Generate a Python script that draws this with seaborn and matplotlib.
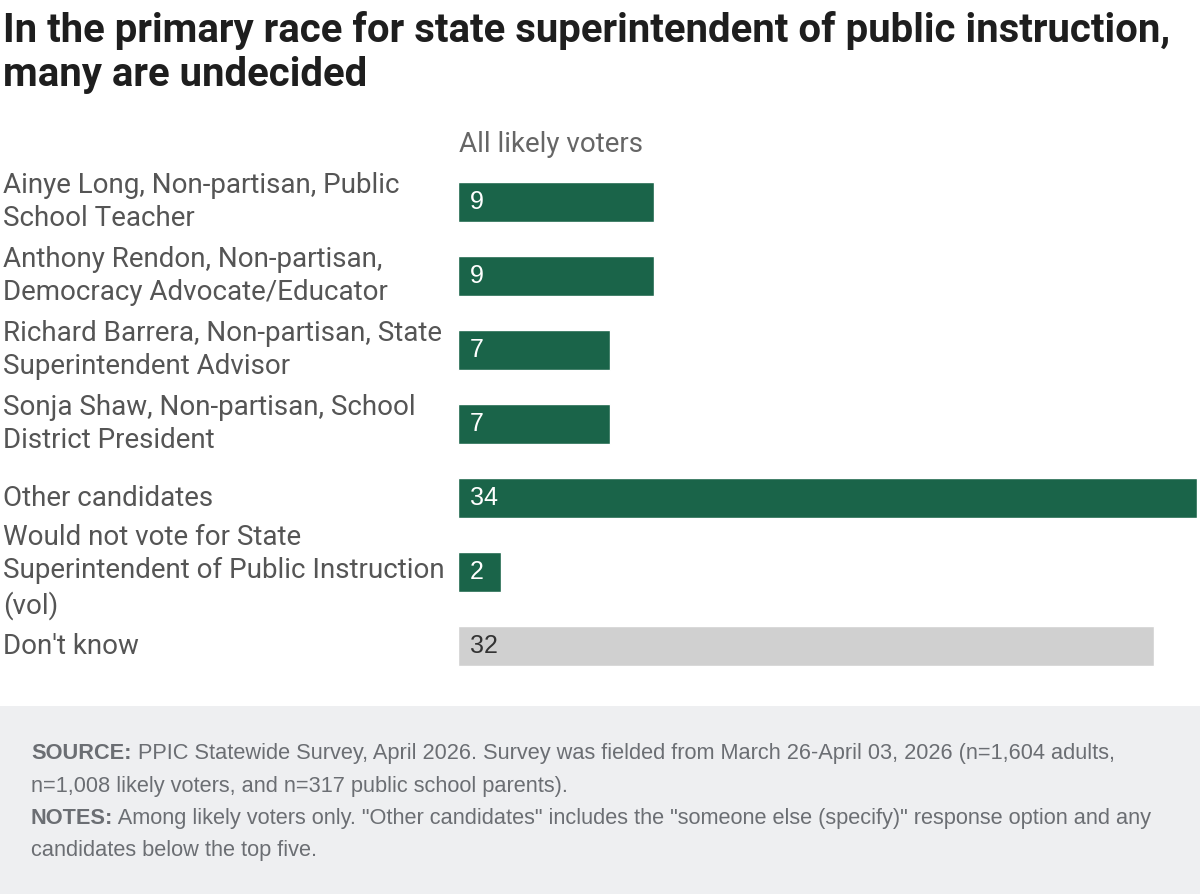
import matplotlib
matplotlib.use("Agg")
import matplotlib.pyplot as plt
import matplotlib.transforms as mtransforms
from matplotlib.patches import Rectangle
import seaborn as sns
import pandas as pd

# ---------------- data ----------------
categories = [
    "Ainye Long, Non-partisan, Public\nSchool Teacher",
    "Anthony Rendon, Non-partisan,\nDemocracy Advocate/Educator",
    "Richard Barrera, Non-partisan, State\nSuperintendent Advisor",
    "Sonja Shaw, Non-partisan, School\nDistrict President",
    "Other candidates",
    "Would not vote for State\nSuperintendent of Public Instruction\n(vol)",
    "Don't know",
]
values = [9, 9, 7, 7, 34, 2, 32]
bar_colors = ["#1a6449", "#1a6449", "#1a6449", "#1a6449", "#1a6449", "#1a6449", "#d0d0d0"]
label_colors = ["white", "white", "white", "white", "white", "white", "#333333"]
series_name = "All likely voters"
title_lines = ["In the primary race for state superintendent of public instruction,",
               "many are undecided"]
source_head = "SOURCE:"
source_lines = [
    " PPIC Statewide Survey, April 2026. Survey was fielded from March 26-April 03, 2026 (n=1,604 adults,",
    "n=1,008 likely voters, and n=317 public school parents).",
]
notes_head = "NOTES:"
notes_lines = [
    " Among likely voters only. \"Other candidates\" includes the \"someone else (specify)\" response option and any",
    "candidates below the top five.",
]

df = pd.DataFrame({"category": categories, "value": values})

# ---------------- figure ----------------
sns.set_theme(style="white")
W, H = 1200, 894
fig = plt.figure(figsize=(W / 100, H / 100), dpi=100)
fig.patch.set_facecolor("white")
renderer = fig.canvas.get_renderer()

label_font = ["Roboto", "DejaVu Sans"]
num_font = ["Liberation Sans", "DejaVu Sans"]


def fit_size(text, target_px, family, weight="normal", base=20):
    t = fig.text(0, 0, text, fontsize=base, family=family, fontweight=weight)
    w = t.get_window_extent(renderer=renderer).width
    t.remove()
    return base * target_px / w


label_size = fit_size(categories[0].split("\n")[0], 396, label_font)
title_size = fit_size(title_lines[0], 1165, label_font, "bold")

# footer background
fig.patches.append(Rectangle((0, 0), 1, (H - 706) / H, transform=fig.transFigure,
                             facecolor="#eeeff1", edgecolor="none", zorder=0))

ax = fig.add_axes([458 / W, 1 - 683 / H, (1197 - 458) / W, 518 / H])
sns.barplot(data=df, x="value", y="category", hue="category", palette=bar_colors,
            legend=False, width=0.54, orient="h", ax=ax, saturation=1)
ax.set_xlim(0, 34)
ax.set_ylim(6.5, -0.5)
for s in ax.spines.values():
    s.set_visible(False)
ax.set_xticks([])
ax.set_yticks([])
ax.set_xlabel("")
ax.set_ylabel("")
ax.patch.set_alpha(0)

# value labels
off = mtransforms.ScaledTranslation(12 / 100, 0, fig.dpi_scale_trans)
for i, (v, c) in enumerate(zip(values, label_colors)):
    ax.text(0, i, str(v), transform=ax.transData + off, ha="left", va="center",
            fontsize=18, color=c, family=num_font)

# category labels
blend = mtransforms.blended_transform_factory(fig.transFigure, ax.transData)
for i, cat in enumerate(categories):
    ax.text(3 / W, i, cat, transform=blend, ha="left", va="center", fontsize=label_size,
            color="#555555", family=label_font, linespacing=1.3)

# series header
fig.text(459 / W, 1 - 152 / H, series_name, ha="left", va="baseline", fontsize=label_size,
         color="#666666", family=label_font)

# title
fig.text(3 / W, 1 - 42 / H, title_lines[0], ha="left", va="baseline",
         fontsize=title_size, fontweight="bold", color="#1e1e1e", family=label_font)
fig.text(3 / W, 1 - 86 / H, title_lines[1], ha="left", va="baseline",
         fontsize=title_size, fontweight="bold", color="#1e1e1e", family=label_font)

# footer
fcol = "#6b6e73"
fsize = 15.7
ys = [759, 792, 824, 856]


def head_line(y, head, rest):
    t = fig.text(31 / W, 1 - y / H, head, ha="left", va="baseline", fontsize=fsize,
                 fontweight="bold", color=fcol, family=num_font)
    bb = t.get_window_extent(renderer=renderer)
    fig.text(bb.x1 / W, 1 - y / H, rest, ha="left", va="baseline", fontsize=fsize,
             color=fcol, family=num_font)


head_line(ys[0], source_head, source_lines[0])
fig.text(31 / W, 1 - ys[1] / H, source_lines[1], ha="left", va="baseline", fontsize=fsize,
         color=fcol, family=num_font)
head_line(ys[2], notes_head, notes_lines[0])
fig.text(31 / W, 1 - ys[3] / H, notes_lines[1], ha="left", va="baseline", fontsize=fsize,
         color=fcol, family=num_font)

fig.savefig("out.png", dpi=100, facecolor="white")
